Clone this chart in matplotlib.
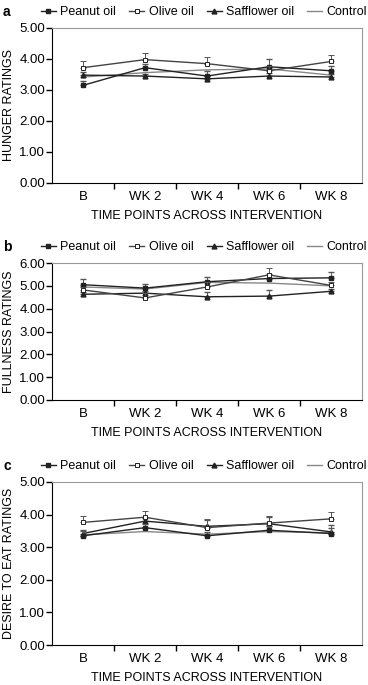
import numpy as np
import matplotlib.pyplot as plt
from matplotlib.ticker import FormatStrFormatter
from matplotlib.lines import Line2D

plt.rcParams['font.family'] = ['Liberation Sans', 'DejaVu Sans']

times = ['B', 'WK 2', 'WK 4', 'WK 6', 'WK 8']
series = ['Peanut oil', 'Olive oil', 'Safflower oil', 'Control']

# hunger ratings
hunger_peanut = [3.15, 3.72, 3.45, 3.75, 3.62]
hunger_olive = [3.72, 3.98, 3.85, 3.62, 3.92]
hunger_saff = [3.48, 3.45, 3.36, 3.45, 3.42]
hunger_ctrl = [3.42, 3.56, 3.65, 3.68, 3.48]
hunger_err_peanut = [0.15, 0.12, 0.15, 0.25, 0.15]
hunger_err_olive = [0.22, 0.2, 0.22, 0.15, 0.2]
hunger_err_saff = [0.1, 0.08, 0.1, 0.1, 0.1]

# fullness ratings
full_peanut = [5.05, 4.90, 5.18, 5.32, 5.35]
full_olive = [4.82, 4.47, 4.95, 5.48, 5.02]
full_saff = [4.63, 4.68, 4.52, 4.55, 4.76]
full_ctrl = [4.95, 4.86, 5.15, 5.12, 5.00]
full_err_peanut = [0.25, 0.2, 0.2, 0.2, 0.25]
full_err_olive = [0.15, 0.2, 0.2, 0.28, 0.15]
full_err_saff = [0.1, 0.1, 0.22, 0.28, 0.1]

# desire to eat ratings
desire_peanut = [3.35, 3.60, 3.35, 3.52, 3.42]
desire_olive = [3.76, 3.92, 3.60, 3.74, 3.87]
desire_saff = [3.42, 3.80, 3.64, 3.72, 3.47]
desire_ctrl = [3.38, 3.48, 3.40, 3.48, 3.44]
desire_err_peanut = [0.15, 0.12, 0.12, 0.12, 0.25]
desire_err_olive = [0.2, 0.2, 0.25, 0.22, 0.22]
desire_err_saff = [0.12, 0.1, 0.2, 0.2, 0.12]

panels = [
	('a', 'HUNGER RATINGS', 5.0, hunger_peanut, hunger_olive, hunger_saff, hunger_ctrl,
	 hunger_err_peanut, hunger_err_olive, hunger_err_saff),
	('b', 'FULLNESS RATINGS', 6.0, full_peanut, full_olive, full_saff, full_ctrl,
	 full_err_peanut, full_err_olive, full_err_saff),
	('c', 'DESIRE TO EAT RATINGS', 5.0, desire_peanut, desire_olive, desire_saff, desire_ctrl,
	 desire_err_peanut, desire_err_olive, desire_err_saff),
]

W, H = 368, 685
fig = plt.figure(figsize=(W / 100, H / 100), dpi=100)

# axes boxes in pixels: left, top, right, bottom
boxes = [(52, 28, 362, 183), (52, 263, 362, 400), (52, 482, 362, 645)]

# legend handles (no error bars)
leg_handles = [
	Line2D([], [], color='#222222', lw=1.0, marker='s', ms=3.5),
	Line2D([], [], color='#444444', lw=1.0, marker='s', ms=3.5, mfc='white', mec='#222222', mew=0.7),
	Line2D([], [], color='#222222', lw=1.0, marker='^', ms=3.5),
	Line2D([], [], color='#888888', lw=1.0),
]

x = np.arange(len(times))
for (letter, ylab, ymax, pea, oli, saf, ctl, epea, eoli, esaf), (l, t, r, b) in zip(panels, boxes):
	ax = fig.add_axes([l / W, 1 - b / H, (r - l) / W, (b - t) / H])
	ax.plot(x, ctl, '-', color='#888888', lw=1.0, zorder=2)
	ax.errorbar(x, saf, yerr=[np.zeros(5), esaf], fmt='-^', color='#222222', ms=3.5, lw=1.0,
		elinewidth=0.7, capsize=2, ecolor='#555555', zorder=3)
	ax.errorbar(x, pea, yerr=[np.zeros(5), epea], fmt='-s', color='#222222', ms=3.5, lw=1.0,
		elinewidth=0.7, capsize=2, ecolor='#555555', zorder=4)
	ax.errorbar(x, oli, yerr=[np.zeros(5), eoli], fmt='-s', color='#444444', mfc='white', mec='#222222',
		ms=3.5, mew=0.7, lw=1.0, elinewidth=0.7, capsize=2, ecolor='#555555', zorder=5)

	ax.set_xlim(-0.5, 4.5)
	ax.set_ylim(0, ymax)
	ax.set_yticks(np.arange(0, ymax + 0.01, 1.0))
	ax.yaxis.set_major_formatter(FormatStrFormatter('%.2f'))
	ax.set_xticks(x)
	ax.set_xticklabels(times)
	ax.set_xticks([0.5, 1.5, 2.5, 3.5], minor=True)
	ax.tick_params(axis='x', which='major', length=0, labelsize=9.5, pad=6)
	ax.tick_params(axis='x', which='minor', length=4, width=1, direction='out')
	ax.tick_params(axis='y', length=4, width=1, labelsize=9.5, pad=1)
	for s in ['top', 'right']:
		ax.spines[s].set_color('#999999')
	for s in ['left', 'bottom']:
		ax.spines[s].set_color('black')
	ax.set_ylabel(ylab, fontsize=9, labelpad=3)
	ax.set_xlabel('TIME POINTS ACROSS INTERVENTION', fontsize=9, labelpad=5)

	fig.text(3 / W, 1 - (t - 16) / H, letter, fontsize=10, fontweight='bold', va='center', ha='left')
	ax.legend(leg_handles, series, ncol=4, frameon=False,
		fontsize=9, loc='center left', bbox_to_anchor=((41 - l) / (r - l), 1 + 16 / (b - t)),
		handlelength=1.2, handletextpad=0.35, columnspacing=1.05, borderaxespad=0, borderpad=0)

fig.savefig('out.png', dpi=100)
